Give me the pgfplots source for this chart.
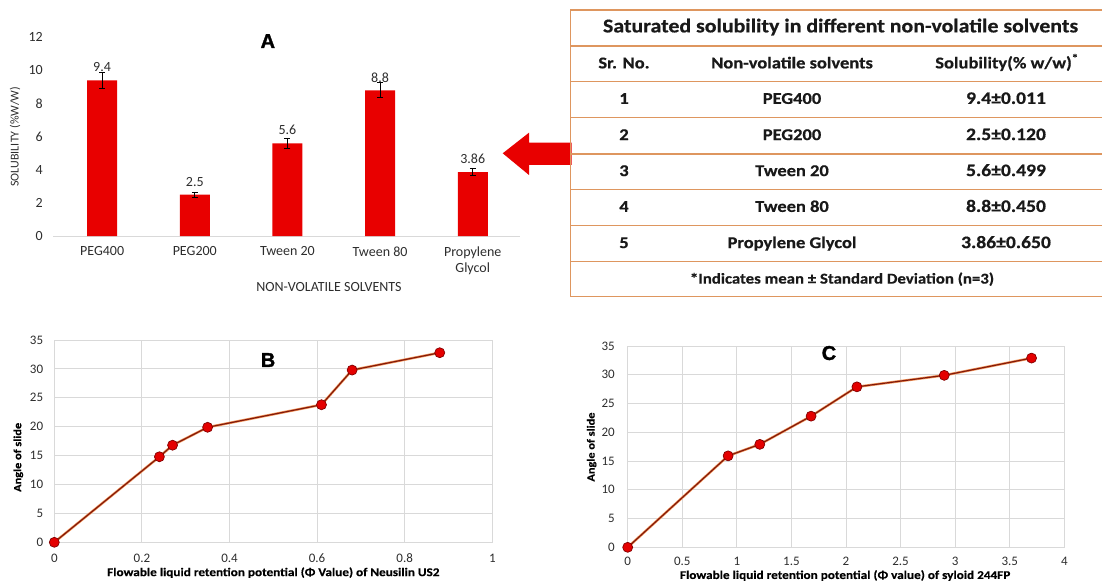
\documentclass[border=0pt]{standalone}
\usepackage{pgfplots}
\usepackage{pgfplotstable}
\pgfplotsset{compat=1.18}
\usepackage{fontspec}
\setmainfont{Carlito}
\newfontfamily\tabfont[FakeStretch=1.12, BoldFeatures={FakeBold=0.6}]{Carlito}
\newfontfamily\labfont[FakeStretch=1.12, BoldFeatures={FakeBold=0.4}]{Carlito}
\newfontfamily\heavy[BoldFeatures={FakeBold=1.6}]{Liberation Sans}
\definecolor{barred}{RGB}{232,0,0}
\definecolor{gridgray}{RGB}{217,217,217}
\definecolor{ticktext}{RGB}{45,45,45}
\definecolor{tabline}{RGB}{222,150,95}
\definecolor{linedark}{RGB}{130,25,10}
\definecolor{lineglow}{RGB}{242,150,90}
\definecolor{markred}{RGB}{228,0,0}
\definecolor{markedge}{RGB}{130,0,0}
\definecolor{tabtext}{RGB}{25,25,25}

\pgfplotstableread{
x y e lab
0 9.4 0.5 9.4
1 2.5 0.15 2.5
2 5.6 0.3 5.6
3 8.8 0.45 8.8
4 3.86 0.23 3.86
}\tabA

\pgfplotstableread{
x y
0 0
0.24 14.8
0.27 16.8
0.35 19.9
0.61 23.8
0.68 29.8
0.88 32.8
}\tabB

\pgfplotstableread{
x y
0 0
0.92 15.9
1.21 17.9
1.68 22.8
2.10 27.9
2.90 29.9
3.70 32.9
}\tabC

\begin{document}
\begin{tikzpicture}[x=1pt,y=1pt]
\path[use as bounding box] (0,0) rectangle (1102,582);

% ---------------- Panel A ----------------
\begin{axis}[
  at={(53pt,346pt)}, anchor=south west,
  scale only axis, width=467pt, height=198.7pt,
  xmin=-0.53, xmax=4.51, ymin=0, ymax=12,
  axis x line=bottom, axis y line=left,
  x axis line style={gridgray, line width=0.9pt, -},
  y axis line style={draw=none},
  xtick={0,1,2,3,4},
  xticklabels={PEG400,PEG200,Tween 20,Tween 80,{Propylene\\Glycol}},
  ytick={0,2,4,6,8,10,12},
  major tick length=0pt,
  tick label style={font=\fontsize{14}{15.7}\selectfont, text=ticktext},
  xticklabel style={align=center, inner sep=0pt, anchor=north, yshift=-10.5pt},
  yticklabel style={inner sep=0pt, anchor=east, xshift=-10pt},
  /pgf/number format/assume math mode=true,
  ylabel={SOLUBILITY (\%W/W)},
  ylabel style={at={(axis description cs:-0.0814,0.5)}, anchor=center,
     font=\fontsize{12}{13}\selectfont, text=ticktext},
  xlabel={NON-VOLATILE SOLVENTS},
  xlabel style={at={(axis description cs:0.591,-0.2567)}, anchor=center,
     font=\fontsize{14}{15}\selectfont, text=ticktext},
  clip=false,
]
\addplot[ybar, bar width=30pt, fill=barred, draw=none,
  nodes near coords, point meta=explicit symbolic,
  every node near coord/.append style={font=\fontsize{14}{15}\selectfont, text=ticktext, anchor=center, yshift=13pt},
  error bars/.cd, y dir=both, y explicit,
  error bar style={black, line width=0.9pt},
  error mark options={rotate=90, black, mark size=3pt, line width=0.9pt}]
  table[x=x, y=y, y error=e, meta=lab] {\tabA};
\node[font=\heavy\bfseries\fontsize{20}{20}\selectfont] at (axis description cs:0.46,0.981) {A};
\end{axis}

% ---------------- Arrow ----------------
\fill[barred] (502.7,428.7) -- (529,449.3) -- (529,439.3) -- (571.7,439.3)
   -- (571.7,417) -- (529,417) -- (529,407) -- cycle;

% ---------------- Table ----------------
\begin{scope}[tabline, line width=1.4pt]
\draw (1102,572) -- (570.7,572) -- (570.7,285.3) -- (1102,285.3);
\foreach \yy in {536,500.3,464.7,428,392.7,356.3,320.3} {
  \draw (570.7,\yy) -- (1102,\yy);
}
\end{scope}
\begin{scope}[every node/.style={anchor=mid, inner sep=0pt, text=tabtext}]
\node[font=\tabfont\bfseries\fontsize{19.5}{22}\selectfont] at (840.5,552) {Saturated solubility in different non-volatile solvents};
\node[font=\tabfont\bfseries\fontsize{16.5}{18}\selectfont] at (624,516) {Sr. No.};
\node[font=\tabfont\bfseries\fontsize{16.5}{18}\selectfont] at (792,516) {Non-volatile solvents};
\node[font=\tabfont\bfseries\fontsize{16.5}{18}\selectfont] at (1007,516) {Solubility(\% w/w)\textsuperscript{*}};
\foreach \yy/\n/\name/\val in {480.5/1/PEG400/9.4±0.011, 444.3/2/PEG200/2.5±0.120, 408.3/3/Tween 20/5.6±0.499, 372.5/4/Tween 80/8.8±0.450, 336.3/5/Propylene Glycol/3.86±0.650} {
  \node[font=\tabfont\bfseries\fontsize{16.5}{19}\selectfont] at (624,\yy) {\n};
  \node[font=\tabfont\bfseries\fontsize{16.5}{19}\selectfont] at (792,\yy) {\name};
  \node[font=\tabfont\bfseries\fontsize{17.5}{19}\selectfont] at (1006,\yy) {\val};
}
\node[font=\tabfont\bfseries\fontsize{15}{18}\selectfont] at (842,300.8) {*Indicates mean ± Standard Deviation (n=3)};
\end{scope}

% ---------------- Panel B ----------------
\begin{axis}[
  at={(54.3pt,39.7pt)}, anchor=south west,
  scale only axis, width=438pt, height=202.3pt,
  xmin=0, xmax=1, ymin=0, ymax=35,
  xtick={0,0.2,0.4,0.6,0.8,1}, ytick={0,5,10,15,20,25,30,35},
  grid=major, grid style={gridgray, line width=0.9pt},
  axis line style={gridgray, line width=0.9pt},
  major tick length=0pt,
  tick label style={font=\fontsize{13}{14}\selectfont, text=ticktext},
  xticklabel style={inner sep=0pt, anchor=north, yshift=-11.5pt},
  yticklabel style={inner sep=0pt, anchor=east, xshift=-11pt},
  /pgf/number format/assume math mode=true,
  ylabel={Angle of slide},
  ylabel style={at={(axis description cs:-0.0822,0.42)}, anchor=center,
     font=\labfont\bfseries\fontsize{11}{13}\selectfont, text=black},
  xlabel={Flowable liquid retention potential (Φ Value) of Neusilin US2},
  xlabel style={at={(axis description cs:0.5,-0.150)}, anchor=center,
     font=\labfont\bfseries\fontsize{11.8}{13}\selectfont, text=black},
  clip=false,
]
\addplot[lineglow, line width=2.5pt, line join=round] table {\tabB};
\addplot[linedark, line width=1.2pt, line join=round, mark=*, mark size=5pt,
  mark options={fill=markred, draw=markedge, line width=0.7pt}] table {\tabB};
\node[font=\heavy\bfseries\fontsize{20}{20}\selectfont] at (axis description cs:0.488,0.901) {B};
\end{axis}

% ---------------- Panel C ----------------
\begin{axis}[
  at={(627.7pt,34.7pt)}, anchor=south west,
  scale only axis, width=436.6pt, height=201.3pt,
  xmin=0, xmax=4, ymin=0, ymax=35,
  xtick={0,0.5,1,1.5,2,2.5,3,3.5,4}, ytick={0,5,10,15,20,25,30,35},
  grid=major, grid style={gridgray, line width=0.9pt},
  axis line style={gridgray, line width=0.9pt},
  major tick length=0pt,
  tick label style={font=\fontsize{13}{14}\selectfont, text=ticktext},
  xticklabel style={inner sep=0pt, anchor=north, yshift=-10pt},
  yticklabel style={inner sep=0pt, anchor=east, xshift=-12.7pt},
  /pgf/number format/assume math mode=true,
  ylabel={Angle of slide},
  ylabel style={at={(axis description cs:-0.0825,0.498)}, anchor=center,
     font=\labfont\bfseries\fontsize{11}{13}\selectfont, text=black},
  xlabel={Flowable liquid retention potential (Φ value) of syloid 244FP},
  xlabel style={at={(axis description cs:0.498,-0.140)}, anchor=center,
     font=\labfont\bfseries\fontsize{11.8}{13}\selectfont, text=black},
  clip=false,
]
\addplot[lineglow, line width=2.5pt, line join=round] table {\tabC};
\addplot[linedark, line width=1.2pt, line join=round, mark=*, mark size=5pt,
  mark options={fill=markred, draw=markedge, line width=0.7pt}] table {\tabC};
\node[font=\heavy\bfseries\fontsize{20}{20}\selectfont] at (axis description cs:0.461,0.965) {C};
\end{axis}
\end{tikzpicture}
\end{document}
